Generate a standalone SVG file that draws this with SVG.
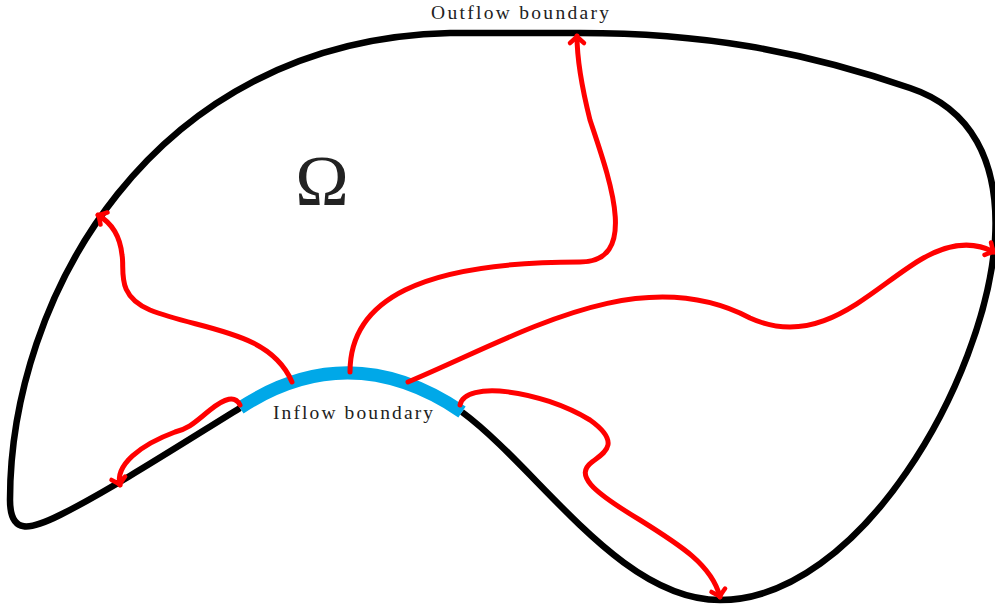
<svg xmlns="http://www.w3.org/2000/svg" width="995" height="606" viewBox="0 0 995 606">
<style>
.outline{fill:none;stroke:#000;stroke-width:6.5;stroke-linejoin:round}
.inflow{fill:none;stroke:#00A8E8;stroke-width:13}
.flow{fill:none;stroke:#FF0000;stroke-width:5;stroke-linecap:round;marker-end:url(#arr)}
.lbl{font-family:"Liberation Serif","DejaVu Serif",serif;fill:#222}
</style>
<defs>
<marker id="arr" markerUnits="userSpaceOnUse" markerWidth="20" markerHeight="20" viewBox="-10 -10 20 20" refX="0" refY="0" orient="auto" overflow="visible">
<path d="M -7 -7 Q -2 -1 0 0 Q -2 1 -7 7" fill="none" stroke="#FF0000" stroke-width="4.5" stroke-linecap="round" stroke-linejoin="round"/>
</marker>
</defs>
<g id="domain">
<path class="outline" d="M 462 412 C 540 470, 620 600, 720 600 C 860 600, 985 380, 995 240 C 1000 160, 970 108, 910 88 C 800 50, 700 33, 580 33 L 450 33 C 150 40, 10 300, 10 500 C 10 535, 30 530, 60 515 C 110 490, 180 445, 240 408"/>
</g>
<g id="inflow">
<path class="inflow" d="M 240 408 Q 350 336 462 412"/>
</g>
<g id="connectors">
<path class="flow" d="M 292 382 C 270 330, 200 330, 150 310 C 115 295, 125 270, 122 255 C 120 235, 110 222, 98 215"/>
<path class="flow" d="M 350 372 C 350 300, 420 262, 580 262 C 640 262, 610 180, 590 120 C 580 80, 577 50, 577 36"/>
<path class="flow" d="M 408 382 C 520 335, 640 260, 750 318 C 820 350, 870 290, 920 260 C 950 242, 975 242, 994 252"/>
<path class="flow" d="M 460 405 C 465 380, 540 390, 590 420 C 625 445, 600 455, 592 462 C 575 475, 590 490, 640 520 C 680 545, 712 565, 720 597"/>
<path class="flow" d="M 240 405 C 235 395, 225 398, 210 410 C 195 422, 190 428, 175 432 C 140 445, 115 465, 120 485"/>
</g>
<g id="labels">
<text class="lbl" x="520" y="19" font-size="19.5" text-anchor="middle" textLength="178">Outflow boundary</text>
<text class="lbl" x="353" y="419" font-size="19.5" text-anchor="middle" textLength="160">Inflow boundary</text>
<text class="lbl" x="322" y="205" font-size="72" text-anchor="middle" fill="#000">Ω</text>
</g>
</svg>
